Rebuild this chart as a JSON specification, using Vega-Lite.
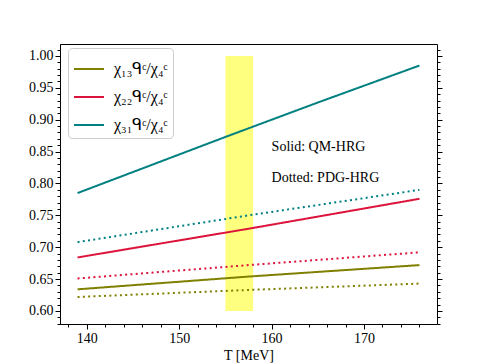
{
  "$schema": "https://vega.github.io/schema/vega-lite/v6.json",
  "width": 377,
  "height": 280,
  "autosize": "none",
  "padding": {"left": 60, "top": 44, "right": 49, "bottom": 40},
  "config": {
    "view": {"stroke": "black", "strokeWidth": 1},
    "font": "Liberation Serif",
    "axis": {
      "domainColor": "black",
      "tickColor": "black",
      "labelColor": "black",
      "titleColor": "black",
      "labelFont": "Liberation Serif",
      "titleFont": "Liberation Serif",
      "labelFontSize": 14,
      "titleFontSize": 14,
      "titleFontWeight": "normal",
      "grid": false
    }
  },
  "datasets": {
    "lines": [
      {"T": 139, "ratio": 0.634, "quantity": "χ₁₃ᑫᶜ/χ₄ᶜ", "model": "QM-HRG"},
      {"T": 157.5, "ratio": 0.654, "quantity": "χ₁₃ᑫᶜ/χ₄ᶜ", "model": "QM-HRG"},
      {"T": 176, "ratio": 0.672, "quantity": "χ₁₃ᑫᶜ/χ₄ᶜ", "model": "QM-HRG"},
      {"T": 139, "ratio": 0.684, "quantity": "χ₂₂ᑫᶜ/χ₄ᶜ", "model": "QM-HRG"},
      {"T": 157.5, "ratio": 0.729, "quantity": "χ₂₂ᑫᶜ/χ₄ᶜ", "model": "QM-HRG"},
      {"T": 176, "ratio": 0.776, "quantity": "χ₂₂ᑫᶜ/χ₄ᶜ", "model": "QM-HRG"},
      {"T": 139, "ratio": 0.785, "quantity": "χ₃₁ᑫᶜ/χ₄ᶜ", "model": "QM-HRG"},
      {"T": 147, "ratio": 0.829, "quantity": "χ₃₁ᑫᶜ/χ₄ᶜ", "model": "QM-HRG"},
      {"T": 155, "ratio": 0.873, "quantity": "χ₃₁ᑫᶜ/χ₄ᶜ", "model": "QM-HRG"},
      {"T": 165, "ratio": 0.927, "quantity": "χ₃₁ᑫᶜ/χ₄ᶜ", "model": "QM-HRG"},
      {"T": 176, "ratio": 0.985, "quantity": "χ₃₁ᑫᶜ/χ₄ᶜ", "model": "QM-HRG"},
      {"T": 139, "ratio": 0.622, "quantity": "χ₁₃ᑫᶜ/χ₄ᶜ", "model": "PDG-HRG"},
      {"T": 157.5, "ratio": 0.633, "quantity": "χ₁₃ᑫᶜ/χ₄ᶜ", "model": "PDG-HRG"},
      {"T": 176, "ratio": 0.643, "quantity": "χ₁₃ᑫᶜ/χ₄ᶜ", "model": "PDG-HRG"},
      {"T": 139, "ratio": 0.651, "quantity": "χ₂₂ᑫᶜ/χ₄ᶜ", "model": "PDG-HRG"},
      {"T": 157.5, "ratio": 0.672, "quantity": "χ₂₂ᑫᶜ/χ₄ᶜ", "model": "PDG-HRG"},
      {"T": 176, "ratio": 0.692, "quantity": "χ₂₂ᑫᶜ/χ₄ᶜ", "model": "PDG-HRG"},
      {"T": 139, "ratio": 0.708, "quantity": "χ₃₁ᑫᶜ/χ₄ᶜ", "model": "PDG-HRG"},
      {"T": 157.5, "ratio": 0.750, "quantity": "χ₃₁ᑫᶜ/χ₄ᶜ", "model": "PDG-HRG"},
      {"T": 176, "ratio": 0.790, "quantity": "χ₃₁ᑫᶜ/χ₄ᶜ", "model": "PDG-HRG"}
    ],
    "band": [{"t0": 155, "t1": 158, "r0": 0.6, "r1": 1.0}],
    "notes": [
      {"label": "Solid: QM-HRG", "T": 160, "ratio": 0.857},
      {"label": "Dotted: PDG-HRG", "T": 160, "ratio": 0.809}
    ]
  },
  "resolve": {"axis": {"x": "independent", "y": "independent"}},
  "layer": [
    {
      "data": {"name": "band"},
      "mark": {"type": "rect", "color": "yellow", "opacity": 0.5},
      "encoding": {
        "x": {"field": "t0", "type": "quantitative", "scale": {"domain": [137.1, 177.9], "nice": false, "zero": false}, "axis": null},
        "x2": {"field": "t1"},
        "y": {"field": "r0", "type": "quantitative", "scale": {"domain": [0.5796, 1.0188], "nice": false, "zero": false},
          "axis": {
            "orient": "right", "title": null, "labels": false, "domain": false,
            "values": [0.58,0.59,0.6,0.61,0.62,0.63,0.64,0.65,0.66,0.67,0.68,0.69,0.7,0.71,0.72,0.73,0.74,0.75,0.76,0.77,0.78,0.79,0.8,0.81,0.82,0.83,0.84,0.85,0.86,0.87,0.88,0.89,0.9,0.91,0.92,0.93,0.94,0.95,0.96,0.97,0.98,0.99,1.0,1.01],
            "tickSize": {"condition": {"test": "round(datum.value*100) % 5 == 0", "value": 5}, "value": 3}
          }},
        "y2": {"field": "r1"}
      }
    },
    {
      "data": {"name": "lines"},
      "mark": {"type": "line", "strokeWidth": 2},
      "encoding": {
        "x": {"field": "T", "type": "quantitative", "scale": {"domain": [137.1, 177.9], "nice": false, "zero": false},
          "axis": {
            "title": "T [MeV]", "titlePadding": 3,
            "labelFont": "Liberation Serif", "titleFont": "Liberation Serif", "labelFontSize": 14, "titleFontSize": 14,
            "values": [138,140,142,144,146,148,150,152,154,156,158,160,162,164,166,168,170,172,174,176],
            "labelExpr": "datum.value % 10 == 0 ? datum.label : ''",
            "labelPadding": 2,
            "tickSize": {"condition": {"test": "datum.value % 10 == 0", "value": 5}, "value": 3}
          }},
        "y": {"field": "ratio", "type": "quantitative", "scale": {"domain": [0.5796, 1.0188], "nice": false, "zero": false},
          "axis": {
            "title": null,
            "labelFont": "Liberation Serif", "labelFontSize": 14,
            "values": [0.58,0.59,0.6,0.61,0.62,0.63,0.64,0.65,0.66,0.67,0.68,0.69,0.7,0.71,0.72,0.73,0.74,0.75,0.76,0.77,0.78,0.79,0.8,0.81,0.82,0.83,0.84,0.85,0.86,0.87,0.88,0.89,0.9,0.91,0.92,0.93,0.94,0.95,0.96,0.97,0.98,0.99,1.0,1.01],
            "labelExpr": "round(datum.value*100) % 5 == 0 ? format(datum.value, '.2f') : ''",
            "labelPadding": 2,
            "tickSize": {"condition": {"test": "round(datum.value*100) % 5 == 0", "value": 5}, "value": 3}
          }},
        "color": {"field": "quantity", "type": "nominal",
          "scale": {"domain": ["χ₁₃ᑫᶜ/χ₄ᶜ", "χ₂₂ᑫᶜ/χ₄ᶜ", "χ₃₁ᑫᶜ/χ₄ᶜ"], "range": ["#808000", "#dc143c", "#008080"]},
          "legend": {
            "title": null, "orient": "none", "legendX": 8, "legendY": 4, "padding": 5,
            "fillColor": "white", "strokeColor": "#cccccc", "cornerRadius": 4,
            "symbolType": "stroke", "symbolSize": 900, "symbolStrokeWidth": 2,
            "labelFont": "Liberation Serif", "labelFontSize": 16, "labelColor": "black",
            "rowPadding": 4, "labelOffset": 9
          }},
        "strokeDash": {"field": "model", "type": "nominal",
          "scale": {"domain": ["QM-HRG", "PDG-HRG"], "range": [[1, 0], [2, 3.3]]}, "legend": null}
      }
    },
    {
      "data": {"name": "notes"},
      "mark": {"type": "text", "align": "left", "baseline": "middle", "fontSize": 14, "font": "Liberation Serif", "color": "black"},
      "encoding": {
        "x": {"field": "T", "type": "quantitative", "axis": null},
        "y": {"field": "ratio", "type": "quantitative", "axis": null},
        "text": {"field": "label"}
      }
    }
  ]
}
